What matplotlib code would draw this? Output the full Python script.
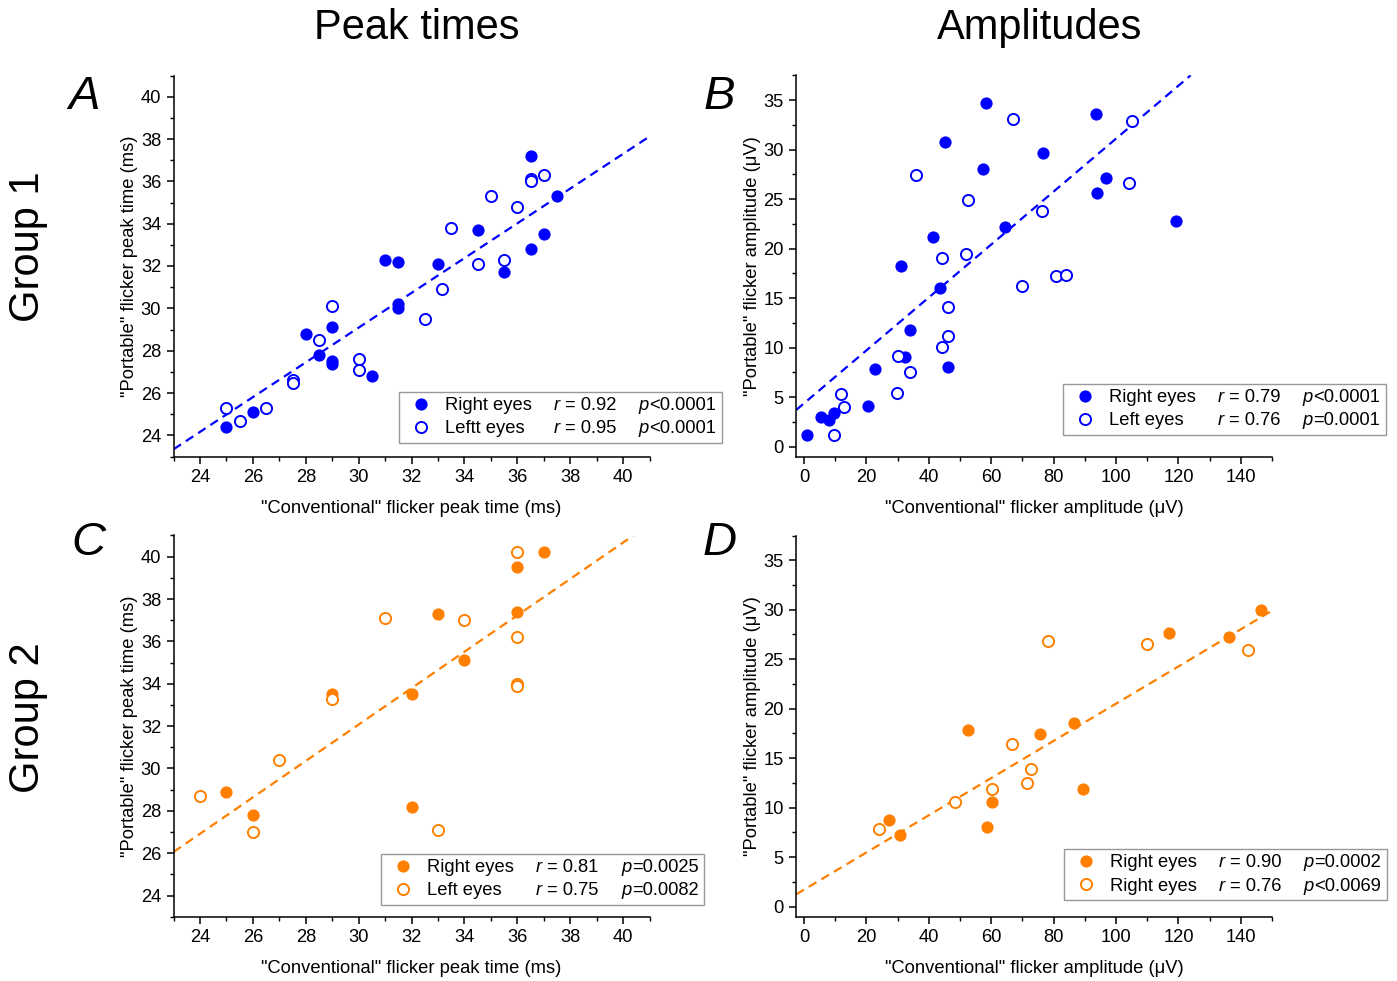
import matplotlib
matplotlib.use("Agg")
import matplotlib.pyplot as plt
from matplotlib.lines import Line2D
from matplotlib.ticker import MultipleLocator

plt.rcParams['font.family'] = ['Liberation Sans', 'DejaVu Sans']

# ---------------- data ----------------
A_right_x = [25, 26, 28, 28.5, 29, 29, 29, 30.5, 31, 31.5, 31.5, 31.5, 33, 34.5, 35.5, 36.5, 36.5, 37, 37.5]
A_right_y = [24.4, 25.1, 28.8, 27.8, 29.1, 27.5, 27.35, 26.8, 32.3, 32.2, 30.2, 30.0, 32.1, 33.7, 31.7, 37.2, 32.8, 33.5, 35.3]
A_left_x = [25, 25.5, 26.5, 27.5, 27.5, 28.5, 29, 30, 30, 32.5, 33.15, 33.5, 34.5, 35, 35.5, 36, 36.5, 36.5, 37]
A_left_y = [25.3, 24.7, 25.3, 26.6, 26.45, 28.5, 30.1, 27.6, 27.1, 29.5, 30.9, 33.8, 32.1, 35.3, 32.3, 34.8, 36.1, 36.0, 36.3]

B_right_x = [1.1, 5.6, 8.0, 9.6, 20.6, 22.8, 31.0, 32.5, 34.1, 41.4, 43.6, 45.1, 46.2, 57.3, 58.4, 64.4, 76.6, 93.6, 93.8, 96.9, 119.2]
B_right_y = [1.2, 3.0, 2.7, 3.4, 4.1, 7.8, 18.3, 9.1, 11.8, 21.2, 16.0, 30.8, 8.0, 28.0, 34.7, 22.2, 29.7, 33.6, 25.6, 27.1, 22.8]
B_left_x = [9.5, 11.8, 12.9, 29.9, 30.1, 34.1, 35.9, 44.1, 44.3, 46.2, 46.2, 51.9, 52.5, 66.9, 69.9, 76.2, 80.9, 84.1, 104.3, 105.0]
B_left_y = [1.2, 5.3, 4.0, 5.4, 9.2, 7.5, 27.4, 19.1, 10.1, 14.1, 11.2, 19.5, 24.9, 33.1, 16.2, 23.8, 17.2, 17.3, 26.6, 32.9]

C_right_x = [25, 26, 29, 32, 32, 33, 34, 36, 36, 37]
C_right_y = [28.9, 27.8, 33.5, 33.5, 28.2, 37.3, 35.1, 39.5, 37.4, 40.2]
C_left_x = [24, 26, 27, 29, 31, 33, 34, 36, 36, 36, 36]
C_left_y = [28.7, 27.0, 30.4, 33.3, 37.1, 27.1, 37.0, 40.2, 36.2, 34.0, 33.9]

D_right_x = [27.2, 30.7, 52.6, 58.7, 60.1, 75.5, 86.6, 89.5, 117.1, 136.1, 146.5]
D_right_y = [8.8, 7.2, 17.9, 8.1, 10.6, 17.4, 18.6, 11.9, 27.6, 27.2, 30.0]
D_left_x = [24.1, 48.3, 60.4, 66.7, 71.5, 72.9, 78.1, 109.9, 142.4]
D_left_y = [7.9, 10.6, 11.9, 16.4, 12.5, 13.9, 26.8, 26.5, 25.9]

# regression lines (intercept, slope)
fit_A = (4.46, 0.821)
fit_B = (4.38, 0.2673)
fit_C = (6.29, 0.8595)
fit_D = (1.72, 0.1879)

legend_names_A = ["Right eyes", "Leftt eyes"]
legend_names_B = ["Right eyes", "Left eyes"]
legend_names_C = ["Right eyes", "Left eyes"]
legend_names_D = ["Right eyes", "Right eyes"]
r_values_A = ["0.92", "0.95"]
r_values_B = ["0.79", "0.76"]
r_values_C = ["0.81", "0.75"]
r_values_D = ["0.90", "0.76"]
p_values_A = ["<0.0001", "<0.0001"]
p_values_B = ["<0.0001", "=0.0001"]
p_values_C = ["=0.0025", "=0.0082"]
p_values_D = ["=0.0002", "<0.0069"]

col_titles = ["Peak times", "Amplitudes"]
row_titles = ["Group 1", "Group 2"]
panel_letters = ["A", "B", "C", "D"]

xlabel_time = '"Conventional" flicker peak time (ms)'
ylabel_time = '"Portable" flicker peak time (ms)'
xlabel_amp = '"Conventional" flicker amplitude (\u03bcV)'
ylabel_amp = '"Portable" flicker amplitude (\u03bcV)'

BLUE = '#0000FF'
ORANGE = '#FF8000'

# ---------------- figure ----------------
W, H = 1397, 981
fig = plt.figure(figsize=(W / 100, H / 100), dpi=100)


def rect(l, r, t, b):
    return [l / W, 1 - b / H, (r - l) / W, (b - t) / H]


axA = fig.add_axes(rect(173.6, 649.6, 75.5, 456.5))
axB = fig.add_axes(rect(796.2, 1272, 75.4, 456.6))
axC = fig.add_axes(rect(173.6, 649.6, 535.5, 916.7))
axD = fig.add_axes(rect(796.2, 1272, 535.5, 916.6))

panels = [
    (axA, A_right_x, A_right_y, A_left_x, A_left_y, fit_A, BLUE, legend_names_A, r_values_A, p_values_A, 'time', (1.152, 0.036)),
    (axB, B_right_x, B_right_y, B_left_x, B_left_y, fit_B, BLUE, legend_names_B, r_values_B, p_values_B, 'amp', (1.2395, 0.057)),
    (axC, C_right_x, C_right_y, C_left_x, C_left_y, fit_C, ORANGE, legend_names_C, r_values_C, p_values_C, 'time', (1.114, 0.031)),
    (axD, D_right_x, D_right_y, D_left_x, D_left_y, fit_D, ORANGE, legend_names_D, r_values_D, p_values_D, 'amp', (1.2416, 0.043)),
]

FS = 13.2

for ax, rx, ry, lx, ly, fit, col, names, rv, pv, kind, anchor in panels:
    ax.axline((0, fit[0]), slope=fit[1], color=col, lw=1.6, ls=(0, (4, 2.6)), zorder=1)
    ax.plot(rx, ry, 'o', ms=8.8, color=col, mec=col, mew=0, zorder=3, clip_on=False)
    ax.plot(lx, ly, 'o', ms=8.0, mfc='white', mec=col, mew=1.4, zorder=3, clip_on=False)

    for s in ['top', 'right']:
        ax.spines[s].set_visible(False)
    for s in ['left', 'bottom']:
        ax.spines[s].set_linewidth(1.1)
    ax.tick_params(which='major', direction='out', length=5, width=1.1, labelsize=FS, pad=4)
    ax.tick_params(which='minor', direction='out', length=2.8, width=1.0)

    if kind == 'time':
        ax.set_xlim(23, 41)
        ax.set_ylim(23, 41)
        ax.xaxis.set_major_locator(MultipleLocator(2))
        ax.xaxis.set_minor_locator(MultipleLocator(1))
        ax.yaxis.set_major_locator(MultipleLocator(2))
        ax.yaxis.set_minor_locator(MultipleLocator(1))
        ax.set_xlabel(xlabel_time, fontsize=FS, labelpad=10.0)
        ax.set_ylabel(ylabel_time, fontsize=FS, labelpad=2.0)
    else:
        ax.set_xlim(-2.5, 150)
        ax.set_ylim(-1, 37.5)
        ax.xaxis.set_major_locator(MultipleLocator(20))
        ax.xaxis.set_minor_locator(MultipleLocator(10))
        ax.yaxis.set_major_locator(MultipleLocator(5))
        ax.yaxis.set_minor_locator(MultipleLocator(2.5))
        ax.set_xlabel(xlabel_amp, fontsize=FS, labelpad=10.0)
        ax.set_ylabel(ylabel_amp, fontsize=FS, labelpad=2.0)

    h_right = Line2D([], [], ls='none', marker='o', ms=8.8, color=col, mew=0)
    h_left = Line2D([], [], ls='none', marker='o', ms=8.0, mfc='white', mec=col, mew=1.4)
    blank = Line2D([], [], ls='none')
    handles = [h_right, h_left, blank, blank, blank, blank]
    # italic r / p are placed just left of these labels (in the blank handle space)
    labels = [names[0], names[1],
              '= ' + rv[0], '= ' + rv[1],
              pv[0], pv[1]]
    leg = ax.legend(handles, labels, ncol=3, loc='lower right', bbox_to_anchor=anchor,
                    borderaxespad=0, fontsize=FS, frameon=True, fancybox=False,
                    handlelength=1.75, handletextpad=0.45, columnspacing=-0.39,
                    labelspacing=0.34, borderpad=0.3)
    leg.get_frame().set_edgecolor('#7f7f7f')
    leg.get_frame().set_linewidth(1.0)
    leg.set_zorder(5)
    texts = leg.get_texts()
    for t_obj, letter, gap in zip(texts[2:], ['r', 'r', 'p', 'p'], [3.8, 3.8, 0.3, 0.3]):
        ax.annotate(letter, xy=(0, 0), xycoords=t_obj, xytext=(-gap, 0),
                    textcoords='offset points', ha='right', va='bottom',
                    fontsize=FS, fontstyle='italic', zorder=6)

# column titles, row titles, panel letters
fig.text(417 / W, 1 - 28 / H, col_titles[0], fontsize=30, ha='center', va='center')
fig.text(1040 / W, 1 - 28 / H, col_titles[1], fontsize=30, ha='center', va='center')
fig.text(28 / W, 1 - 247 / H, row_titles[0], fontsize=30, ha='center', va='center', rotation=90)
fig.text(28 / W, 1 - 718 / H, row_titles[1], fontsize=30, ha='center', va='center', rotation=90)
letter_pos = [(84, 97), (719, 97), (88, 543), (720, 543)]
for letter, (px, py) in zip(panel_letters, letter_pos):
    fig.text(px / W, 1 - py / H, letter, fontsize=34, style='italic', ha='center', va='center')

fig.savefig('out.png', dpi=100)
